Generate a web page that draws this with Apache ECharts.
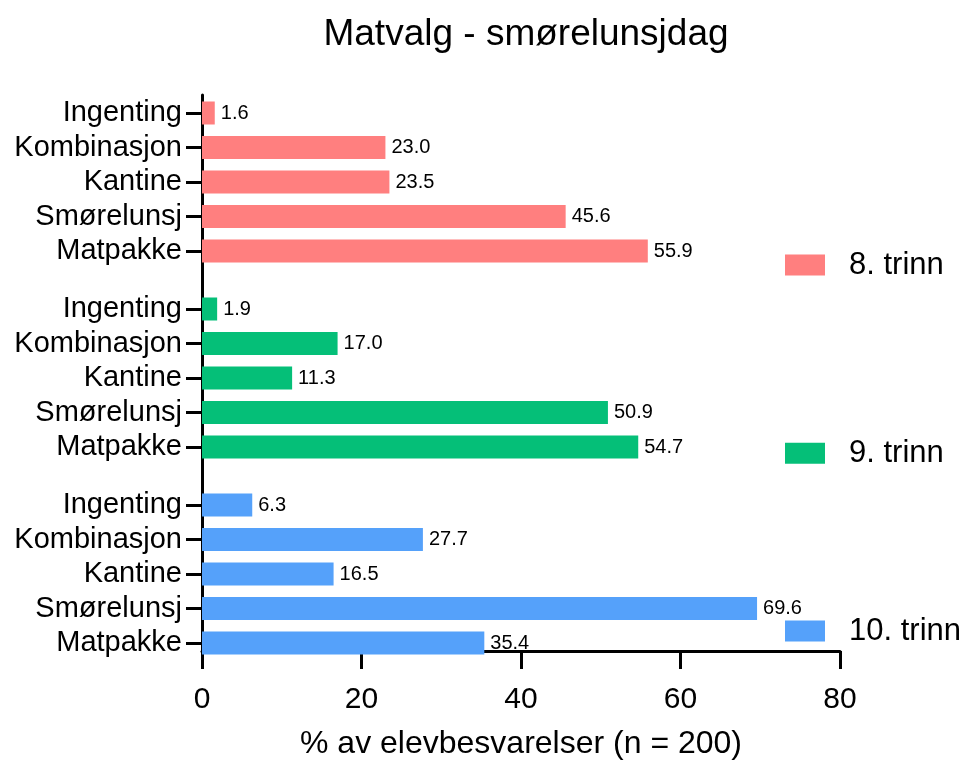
<!DOCTYPE html>
<html>
<head>
<meta charset="utf-8">
<script src="https://cdn.jsdelivr.net/npm/echarts@6/dist/echarts.min.js"></script>
<style>html,body{margin:0;padding:0;background:#fff}#c{width:966px;height:765px}</style>
</head>
<body>
<div id="c"></div>
<script>
var categories = ['Ingenting', 'Kombinasjon', 'Kantine', 'Smørelunsj', 'Matpakke'];
var groupNames = ['8. trinn', '9. trinn', '10. trinn'];
var values8 = [1.6, 23.0, 23.5, 45.6, 55.9];
var values9 = [1.9, 17.0, 11.3, 50.9, 54.7];
var values10 = [6.3, 27.7, 16.5, 69.6, 35.4];
var xTicks = [0, 20, 40, 60, 80];

var groupValues = [values8, values9, values10];
var colors = ['#FF7F7F', '#05BF78', '#55A1FA'];
var FONT = '"Liberation Sans", Arial, sans-serif';
var gridTops = [95.75, 291.75, 487.8];
var legendCenters = [264.5, 452.7, 630.5];

var grids = [], xAxes = [], yAxes = [], series = [], legends = [];
gridTops.forEach(function (t, i) {
  grids.push({left: 202, right: 126, top: t, height: 172.5, containLabel: false});
  xAxes.push({gridIndex: i, type: 'value', min: xTicks[0], max: xTicks[xTicks.length - 1], interval: 20, show: false});
  yAxes.push({
    gridIndex: i, type: 'category', data: categories, inverse: true,
    axisLine: {show: false},
    axisTick: {show: true, interval: 0, alignWithLabel: true, length: 16, lineStyle: {color: '#000', width: 3}},
    axisLabel: {interval: 0, color: '#000', fontSize: 29, fontFamily: FONT, margin: 20},
    splitLine: {show: false}
  });
  series.push({
    name: groupNames[i], type: 'bar', xAxisIndex: i, yAxisIndex: i,
    data: groupValues[i], barWidth: 23,
    itemStyle: {color: colors[i]},
    label: {show: true, position: 'right', distance: 6, color: '#000', fontSize: 20, fontFamily: FONT,
      formatter: function (p) { return p.value.toFixed(1); }}
  });
  legends.push({
    data: [groupNames[i]], left: 785, top: legendCenters[i] - 15, orient: 'vertical', padding: 0,
    itemWidth: 40, itemHeight: 21, icon: 'rect',
    textStyle: {color: '#000', fontSize: 31, fontFamily: FONT, padding: [0, 0, 0, 19]}
  });
});
// main axis grid
grids.push({left: 202, right: 126, top: 95, bottom: 101, containLabel: false});
xAxes.push({
  gridIndex: 3, type: 'value', min: xTicks[0], max: xTicks[xTicks.length - 1], interval: 20,
  axisLine: {show: true, onZero: false, lineStyle: {color: '#000', width: 3}},
  axisTick: {show: true, length: 18, lineStyle: {color: '#000', width: 3}},
  axisLabel: {color: '#000', fontSize: 30, fontFamily: FONT, margin: 34},
  splitLine: {show: false},
  name: '% av elevbesvarelser (n = 200)', nameLocation: 'middle', nameGap: 77,
  nameTextStyle: {color: '#000', fontSize: 32, fontFamily: FONT}
});
yAxes.push({
  gridIndex: 3, type: 'value', min: 0, max: 1,
  axisLine: {show: true, onZero: false, lineStyle: {color: '#000', width: 3}},
  axisTick: {show: false}, axisLabel: {show: false}, splitLine: {show: false}
});

var chart = echarts.init(document.getElementById('c'), null, {renderer: 'canvas'});
chart.setOption({
  animation: false,
  backgroundColor: '#fff',
  title: {text: 'Matvalg - smørelunsjdag', left: 521, top: 11, textAlign: 'center',
    textStyle: {color: '#000', fontSize: 37, fontWeight: 'normal', fontFamily: FONT}},
  legend: legends,
  grid: grids, xAxis: xAxes, yAxis: yAxes, series: series
});
</script>
</body>
</html>
